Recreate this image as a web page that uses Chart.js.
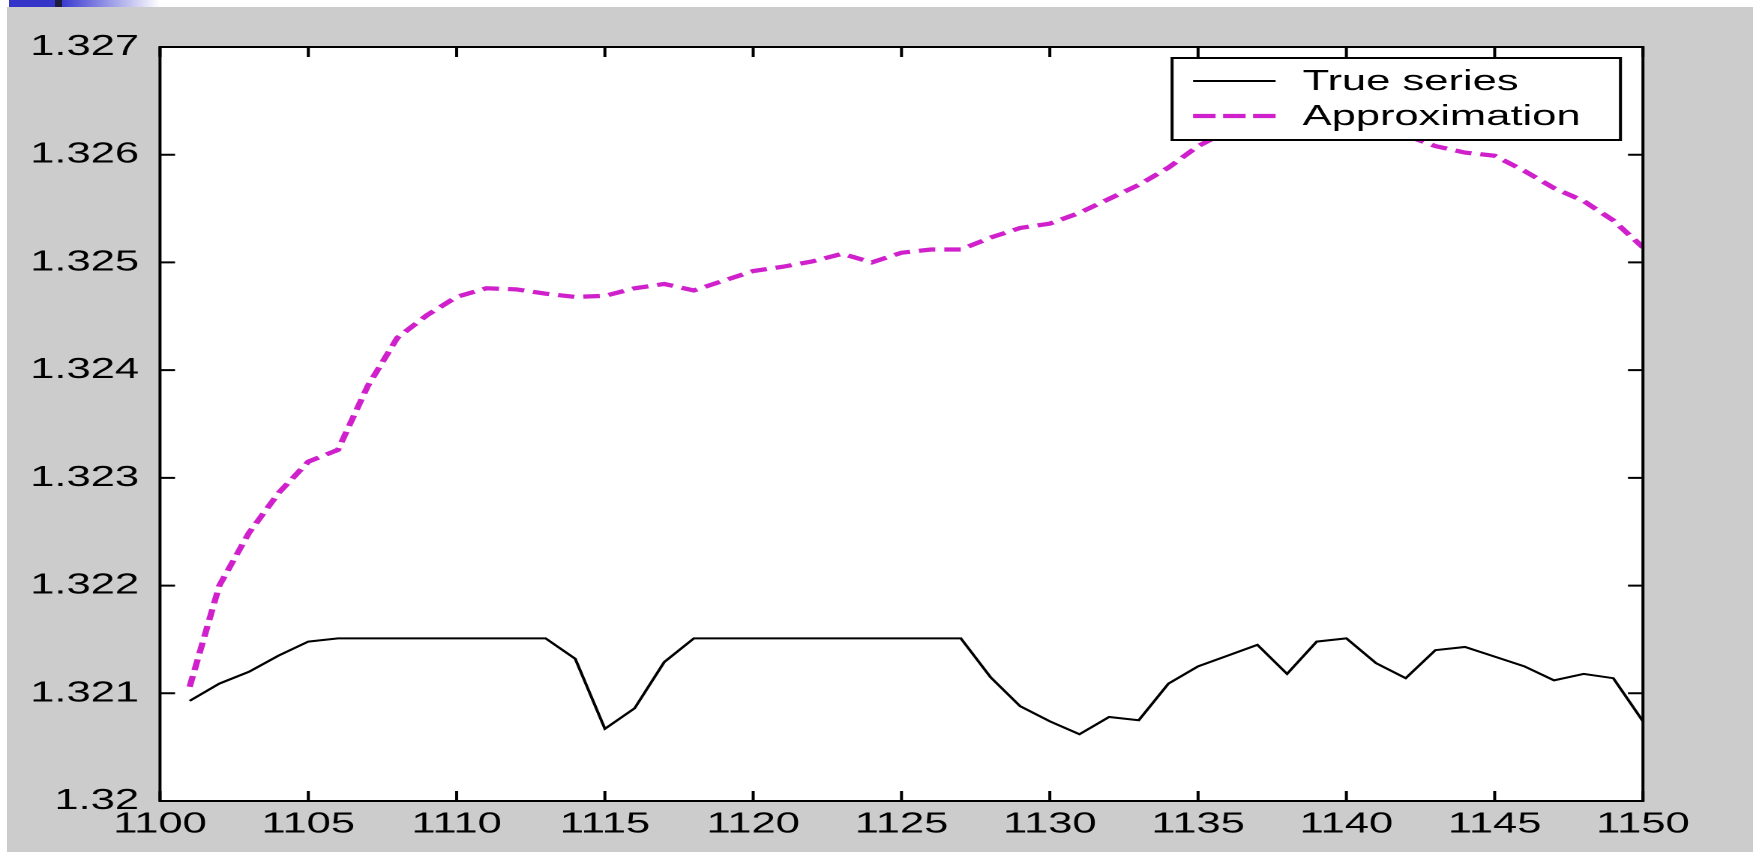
<!DOCTYPE html>
<html>
<head>
<meta charset="utf-8">
<title>True series vs Approximation</title>
<script src="https://cdn.jsdelivr.net/npm/chart.js@4.4.1/dist/chart.umd.min.js"></script>
<style>
  html, body { margin: 0; padding: 0; background: #fff; overflow: hidden; }
  #strip {
    position: absolute; left: 0; top: 0; width: 1753px; height: 7px;
    background: linear-gradient(to right, #fff 0, #fff 9px, #3434c8 9px, #3434c8 55px,
      #1e1e3c 55px, #1e1e3c 62px, #3a3ad0 62px, #fff 160px);
  }
  #figure { position: absolute; left: 7px; top: 7px; right: 0; bottom: 0; background: #cccccc; }
  /* the original figure is stretched sideways, so the whole canvas is too */
  #wrap {
    position: absolute; left: 0; top: 0; width: 1169px; height: 852px;
    transform: scaleX(1.4996); transform-origin: 0 0;
  }
</style>
</head>
<body>
<div id="strip"></div>
<div id="figure"></div>
<div id="wrap"><canvas id="chart"></canvas></div>
<script>
const xValues = [1101, 1102, 1103, 1104, 1105, 1106, 1107, 1108, 1109, 1110,
  1111, 1112, 1113, 1114, 1115, 1116, 1117, 1118, 1119, 1120,
  1121, 1122, 1123, 1124, 1125, 1126, 1127, 1128, 1129, 1130,
  1131, 1132, 1133, 1134, 1135, 1136, 1137, 1138, 1139, 1140,
  1141, 1142, 1143, 1144, 1145, 1146, 1147, 1148, 1149, 1150];

const trueSeries = [1.32093, 1.32109, 1.3212, 1.32135, 1.32148, 1.32151, 1.32151, 1.32151, 1.32151, 1.32151,
  1.32151, 1.32151, 1.32151, 1.32132, 1.32067, 1.32086, 1.32129, 1.32151, 1.32151, 1.32151,
  1.32151, 1.32151, 1.32151, 1.32151, 1.32151, 1.32151, 1.32151, 1.32115, 1.32088, 1.32074,
  1.32062, 1.32078, 1.32075, 1.32109, 1.32125, 1.32135, 1.32145, 1.32118, 1.32148, 1.32151,
  1.32128, 1.32114, 1.3214, 1.32143, 1.32134, 1.32125, 1.32112, 1.32118, 1.32114, 1.32074];

const approxSeries = [1.32106, 1.322, 1.32249, 1.32286, 1.32315, 1.32326, 1.32385, 1.3243, 1.32451, 1.32468,
  1.32476, 1.32475, 1.32471, 1.32468, 1.32469, 1.32476, 1.3248, 1.32474, 1.32483, 1.32492,
  1.32496, 1.32501, 1.32508, 1.325, 1.32509, 1.32512, 1.32512, 1.32523, 1.32532, 1.32536,
  1.32546, 1.32559, 1.32572, 1.32588, 1.32608, 1.32622, 1.32632, 1.32636, 1.32638, 1.32636,
  1.32628, 1.32618, 1.32608, 1.32602, 1.32599, 1.32585, 1.32569, 1.32557, 1.32539, 1.32514];

const seriesNames = ["True series", "Approximation"];
const xTickLabels = ["1100", "1105", "1110", "1115", "1120", "1125", "1130", "1135", "1140", "1145", "1150"];
const yTickLabels = ["1.32", "1.321", "1.322", "1.323", "1.324", "1.325", "1.326", "1.327"];

const FONT = '"Liberation Sans", Arial, sans-serif';
Chart.defaults.font.family = FONT;
Chart.defaults.color = "#000";

// white axes box
const axesBackground = {
  id: "axesBackground",
  beforeDraw(chart) {
    const { ctx, chartArea: a } = chart;
    ctx.save();
    ctx.fillStyle = "#fff";
    ctx.fillRect(a.left, a.top, a.right - a.left, a.bottom - a.top);
    ctx.restore();
  }
};

// matlab style frame with ticks pointing inwards on all four sides
const axesFrame = {
  id: "axesFrame",
  afterDatasetsDraw(chart) {
    const { ctx, chartArea: a, scales } = chart;
    ctx.save();
    ctx.strokeStyle = "#000";
    ctx.lineWidth = 2;
    ctx.beginPath();
    scales.x.ticks.forEach((t) => {
      const px = scales.x.getPixelForValue(t.value);
      ctx.moveTo(px, a.bottom); ctx.lineTo(px, a.bottom - 10);
      ctx.moveTo(px, a.top); ctx.lineTo(px, a.top + 10);
    });
    scales.y.ticks.forEach((t) => {
      const py = scales.y.getPixelForValue(t.value);
      ctx.moveTo(a.left, py); ctx.lineTo(a.left + 10, py);
      ctx.moveTo(a.right, py); ctx.lineTo(a.right - 10, py);
    });
    ctx.stroke();
    ctx.strokeRect(a.left, a.top, a.right - a.left, a.bottom - a.top);
    ctx.restore();
  }
};

// opaque legend box in the top right corner of the axes
const boxLegend = {
  id: "boxLegend",
  afterDatasetsDraw(chart) {
    const { ctx, chartArea: a } = chart;
    const w = 299, h = 82;
    const x0 = a.right - 15 - w, y0 = a.top + 11;
    ctx.save();
    ctx.fillStyle = "#fff";
    ctx.fillRect(x0, y0, w, h);
    ctx.strokeStyle = "#000";
    ctx.lineWidth = 2;
    ctx.strokeRect(x0, y0, w, h);
    chart.data.datasets.forEach((ds, i) => {
      const y = y0 + 23 + i * 35;
      ctx.beginPath();
      ctx.strokeStyle = ds.borderColor;
      ctx.lineWidth = ds.borderWidth;
      ctx.setLineDash(ds.borderDash ? [15, 5] : []);
      ctx.moveTo(x0 + 14, y);
      ctx.lineTo(x0 + 69, y);
      ctx.stroke();
      ctx.setLineDash([]);
      ctx.fillStyle = "#000";
      ctx.font = "29px " + FONT;
      ctx.textBaseline = "middle";
      ctx.fillText(ds.label, x0 + 87, y + 1);
    });
    ctx.restore();
  }
};

new Chart(document.getElementById("chart"), {
  type: "line",
  data: {
    datasets: [
      {
        label: seriesNames[0],
        data: xValues.map((x, i) => ({ x: x, y: trueSeries[i] })),
        borderColor: "#000000",
        borderWidth: 2,
        pointRadius: 0,
        tension: 0,
        fill: false
      },
      {
        label: seriesNames[1],
        data: xValues.map((x, i) => ({ x: x, y: approxSeries[i] })),
        borderColor: "#cf20cc",
        borderWidth: 4.2,
        borderDash: [11, 6],
        pointRadius: 0,
        tension: 0,
        fill: false
      }
    ]
  },
  options: {
    responsive: true,
    maintainAspectRatio: false,
    animation: false,
    devicePixelRatio: 2,
    layout: { padding: { left: 0, top: 47, right: 73.4, bottom: 0 } },
    plugins: {
      legend: { display: false },
      tooltip: { enabled: false }
    },
    scales: {
      x: {
        type: "linear",
        min: 1100,
        max: 1150,
        grid: { display: false, drawTicks: false },
        border: { display: false },
        ticks: {
          stepSize: 5,
          autoSkip: false,
          maxRotation: 0,
          padding: 6,
          color: "#000",
          font: { size: 29 },
          callback: (v, i) => xTickLabels[i]
        },
        afterFit: (s) => { s.height = 51; }
      },
      y: {
        min: 1.32,
        max: 1.327,
        grid: { display: false, drawTicks: false },
        border: { display: false },
        ticks: {
          stepSize: 0.001,
          autoSkip: false,
          padding: 14,
          color: "#000",
          font: { size: 29 },
          callback: (v, i) => yTickLabels[i]
        },
        afterFit: (s) => { s.width = 106.7; }
      }
    }
  },
  plugins: [axesBackground, axesFrame, boxLegend]
});
</script>
</body>
</html>
